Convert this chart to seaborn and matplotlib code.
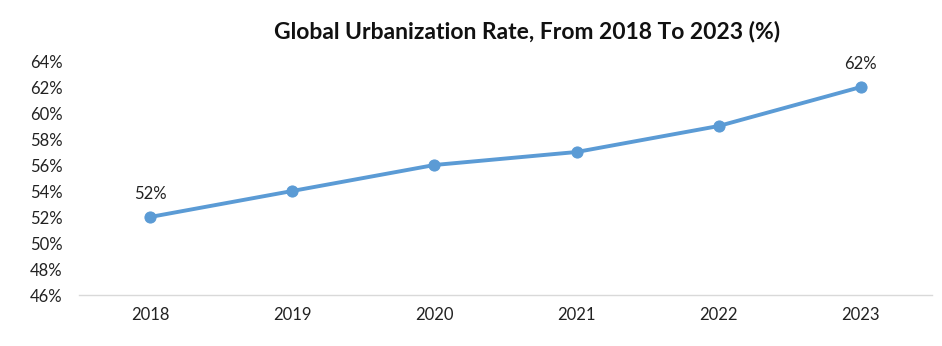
import matplotlib
matplotlib.use("Agg")
import matplotlib.pyplot as plt
import seaborn as sns
import pandas as pd

years = ["2018", "2019", "2020", "2021", "2022", "2023"]
rates = [52, 54, 56, 57, 59, 62]
yticks = [46, 48, 50, 52, 54, 56, 58, 60, 62, 64]
labeled_years = ["2018", "2023"]

sns.set_theme(style="white")
plt.rcParams["font.family"] = ["Lato", "DejaVu Sans"]

df = pd.DataFrame({"year": years, "rate": rates})

fig = plt.figure(figsize=(9.42, 3.46), dpi=100)
ax = fig.add_axes([79/942, 1-295/346, (932-79)/942, (295-61)/346])

color = "#5B9BD5"
sns.lineplot(data=df, x="year", y="rate", ax=ax, color=color, linewidth=2.8,
             marker="o", markersize=8, markeredgecolor=color, sort=False)

for i, (yr, v) in enumerate(zip(years, rates)):
    if yr in labeled_years:
        ax.annotate(f"{v}%", (i, v), xytext=(0, 11), textcoords="offset points",
                    ha="center", va="bottom", fontsize=12, color="#222222")

ax.set_ylim(46, 64)
ax.set_xlim(-0.5, len(years) - 0.5)
ax.set_yticks(yticks)
ax.set_yticklabels([f"{t}%" for t in yticks])
ax.set_xlabel("")
ax.set_ylabel("")
ax.tick_params(axis="both", length=0, labelsize=12, colors="#222222")
ax.tick_params(axis="y", pad=12)
ax.tick_params(axis="x", pad=9)
for s in ["top", "right", "left"]:
    ax.spines[s].set_visible(False)
ax.spines["bottom"].set_color("#D9D9D9")
ax.spines["bottom"].set_linewidth(1)
ax.grid(False)

fig.text(527/942, 1-32/346, "Global Urbanization Rate, From 2018 To 2023 (%)",
         ha="center", va="center", fontsize=16.5, fontweight="bold", color="#111111")

fig.savefig("out.png", dpi=100, facecolor="white")
